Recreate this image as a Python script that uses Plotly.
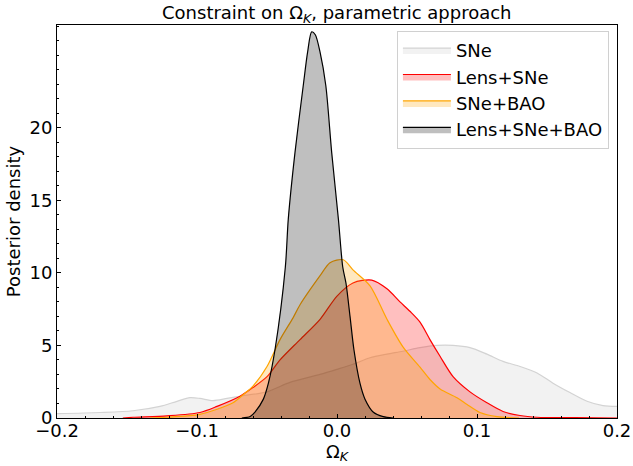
import plotly.graph_objects as go

# SNe
sne_x = [-0.2, -0.1693, -0.1457, -0.1264, -0.1143, -0.105, -0.0979, -0.0886, -0.0786, -0.0693,
         -0.05, -0.0336, -0.0121, 0.0, 0.0114, 0.0236, 0.0357, 0.0471, 0.0593, 0.0714, 0.0829,
         0.095, 0.1071, 0.1186, 0.1307, 0.1429, 0.1543, 0.1664, 0.1786, 0.19, 0.2]
sne_y = [0.3, 0.38, 0.5, 0.8, 1.15, 1.4, 1.35, 1.2, 1.35, 1.5,
         1.8, 2.45, 3.0, 3.35, 3.7, 4.15, 4.4, 4.6, 4.85, 5.0, 5.0,
         4.85, 4.4, 3.9, 3.55, 3.1, 2.4, 1.75, 1.15, 0.85, 0.8]

# Lens+SNe
lsne_x = [-0.153, -0.1457, -0.1214, -0.0979, -0.0857, -0.0693, -0.06, -0.05, -0.0407, -0.0264,
          -0.0121, 0.0, 0.0114, 0.0248, 0.0357, 0.045, 0.0521, 0.0593, 0.0664, 0.0736, 0.0829,
          0.095, 0.1071, 0.1186, 0.1307, 0.1429, 0.17, 0.2]
lsne_y = [0.0, 0.05, 0.15, 0.38, 0.8, 1.5, 2.1, 2.85, 4.0, 5.4,
          6.8, 8.4, 9.3, 9.5, 8.9, 8.0, 7.35, 6.6, 5.4, 4.25, 2.85,
          1.8, 1.05, 0.45, 0.17, 0.05, 0.02, 0.0]

# SNe+BAO
sbao_x = [-0.1336, -0.1214, -0.0979, -0.0857, -0.0743, -0.0671, -0.06, -0.05, -0.0407, -0.0314,
          -0.0264, -0.0121, -0.005, 0.0045, 0.0114, 0.0236, 0.0357, 0.0471, 0.0593, 0.0664,
          0.0736, 0.0857, 0.0929, 0.1021, 0.1143, 0.13]
sbao_y = [0.0, 0.05, 0.25, 0.6, 1.05, 1.6, 2.2, 3.55, 5.4, 6.9,
          7.8, 9.8, 10.7, 10.9, 10.2, 9.1, 6.8, 4.9, 3.5, 2.65,
          2.0, 1.4, 0.93, 0.38, 0.1, 0.0]

# Lens+SNe+BAO
all_x = [-0.068, -0.062, -0.0586, -0.0526, -0.049, -0.0443, -0.0369, -0.0348, -0.030, -0.0241,
         -0.021, -0.0181, -0.0155, -0.0121, -0.008, -0.0038, 0.001, 0.0041, 0.0064, 0.0093,
         0.0121, 0.0164, 0.020, 0.026, 0.033, 0.04]
all_y = [0.0, 0.1, 0.4, 1.3, 2.4, 4.7, 10.4, 13.7, 18.3, 22.9,
         25.2, 26.6, 26.4, 25.2, 22.9, 18.3, 13.7, 10.4, 9.3, 7.0,
         4.7, 2.4, 1.3, 0.4, 0.1, 0.0]

x_ticks = [-0.2, -0.1, 0.0, 0.1, 0.2]
x_labels = ["\u22120.2", "\u22120.1", "0.0", "0.1", "0.2"]
y_ticks = [0, 5, 10, 15, 20]

FONT = "DejaVu Sans"
FS = 18

series = [
    ("SNe", sne_x, sne_y, "rgba(211,211,211,1)", "rgba(211,211,211,0.3)"),
    ("Lens+SNe", lsne_x, lsne_y, "red", "rgba(255,0,0,0.25)"),
    ("SNe+BAO", sbao_x, sbao_y, "orange", "rgba(255,165,0,0.25)"),
    ("Lens+SNe+BAO", all_x, all_y, "black", "rgba(0,0,0,0.25)"),
]

fig = go.Figure()
for name, xs, ys, lc, fc in series:
    fig.add_trace(go.Scatter(
        x=xs, y=ys, name=name, mode="lines", fill="tozeroy",
        line=dict(color=lc, width=1.2, shape="spline", smoothing=0.8),
        fillcolor=fc,
    ))

fig.update_layout(
    width=633, height=466,
    margin=dict(l=57, r=16, t=25, b=48, autoexpand=False),
    paper_bgcolor="white", plot_bgcolor="white",
    font=dict(family=FONT, size=FS, color="black"),
    title=dict(text="Constraint on \u03a9<sub><i>K</i></sub>, parametric approach",
               x=0.532, xanchor="center", y=0.972, yanchor="middle",
               font=dict(family=FONT, size=FS, color="black")),
    showlegend=True,
    legend=dict(x=0.607, y=0.985, xanchor="left", yanchor="top", itemwidth=48,
                bgcolor="rgba(255,255,255,0.8)", bordercolor="#d0d0d0", borderwidth=1,
                font=dict(family=FONT, size=FS, color="black")),
    xaxis=dict(range=[-0.2, 0.2], tickvals=x_ticks, ticktext=x_labels, automargin=False,
               showline=True, linecolor="black", linewidth=1, mirror=True,
               ticks="inside", ticklen=4, tickcolor="black", showgrid=False, zeroline=False,
               ticklabelstandoff=-4,
               minor=dict(ticks="inside", ticklen=2, tickcolor="black", tickmode="linear",
                          tick0=-0.2, dtick=0.02, showgrid=False),
               title=dict(text="\u03a9<sub><i>K</i></sub>", standoff=0,
                          font=dict(family=FONT, size=FS))),
    yaxis=dict(range=[0, 27.07], tickvals=y_ticks, automargin=False,
               showline=True, linecolor="black", linewidth=1, mirror=True,
               ticks="inside", ticklen=4, tickcolor="black", showgrid=False, zeroline=False,
               minor=dict(ticks="inside", ticklen=2, tickcolor="black", tickmode="linear",
                          tick0=0, dtick=1, showgrid=False),
               title=dict(text="Posterior density", standoff=4,
                          font=dict(family=FONT, size=FS))),
)

fig.write_html("out.html")
